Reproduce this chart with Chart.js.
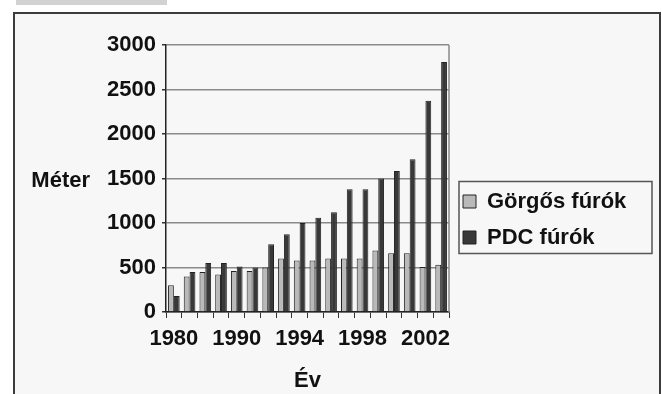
<!DOCTYPE html>
<html>
<head>
<meta charset="utf-8">
<title>Fúrási teljesítmény</title>
<script src="https://cdn.jsdelivr.net/npm/chart.js@4.4.1/dist/chart.umd.min.js"></script>
<style>
  body { margin: 0; background: #fff; }
  #wrap { position: relative; width: 662px; height: 394px; overflow: hidden; }
  .tab { position: absolute; left: 16px; top: 0; width: 151px; height: 5px; background: #d2d2d2; }
  .frame { position: absolute; left: 13px; top: 12px; width: 644px; height: 420px; border: 2px solid #3c3c3c; background: #f7f7f7; }
  canvas { position: absolute; left: 0; top: 0; }
</style>
</head>
<body>
<div id="wrap">
  <div class="tab"></div>
  <div class="frame"></div>
  <canvas id="chart" width="662" height="394"></canvas>
</div>
<script>
// years on the category axis, only some of them get a label
const years = ['1980', '1984', '1986', '1988', '1990', '1991', '1992', '1993', '1994',
               '1995', '1996', '1997', '1998', '1999', '2000', '2001', '2002', '2003'];
const shownYears = ['1980', '1990', '1994', '1998', '2002'];

// metres drilled per bit
const gorgos = [300, 400, 450, 420, 460, 460, 500, 600, 580, 580, 600, 600, 600, 690, 660, 660, 505, 530];
const pdc = [180, 450, 550, 550, 510, 500, 760, 875, 1000, 1060, 1120, 1380, 1380, 1500, 1585, 1715, 2375, 2810];

const yTicks = { min: 0, max: 3000, step: 500 };

const FONT = '"Liberation Sans", Arial, sans-serif';
Chart.defaults.font.family = FONT;
Chart.defaults.font.size = 22;
Chart.defaults.font.weight = 'bold';
Chart.defaults.color = '#111';

// horizontal y title left of the axis
const yTitle = {
  id: 'yTitle',
  afterDraw(chart) {
    const { ctx, chartArea } = chart;
    ctx.save();
    ctx.font = 'bold 22px ' + FONT;
    ctx.fillStyle = '#111';
    ctx.textAlign = 'right';
    ctx.textBaseline = 'middle';
    ctx.fillText('Méter', 90, (chartArea.top + chartArea.bottom) / 2 + 2);
    ctx.restore();
  }
};

// grey border on the right side of the plot
const plotFrame = {
  id: 'plotFrame',
  beforeDatasetsDraw(chart) {
    const { ctx, chartArea } = chart;
    ctx.save();
    ctx.strokeStyle = '#8a8a8a';
    ctx.lineWidth = 1.5;
    ctx.beginPath();
    ctx.moveTo(chartArea.right, chartArea.top);
    ctx.lineTo(chartArea.right, chartArea.bottom);
    ctx.stroke();
    ctx.restore();
  }
};

// box around the legend entries
const legendBox = {
  id: 'legendBox',
  afterDraw(chart) {
    const boxes = chart.legend.legendHitBoxes;
    if (!boxes || !boxes.length) return;
    const left = Math.min(...boxes.map(b => b.left)) - 4;
    const top = Math.min(...boxes.map(b => b.top)) - 9;
    const bottom = Math.max(...boxes.map(b => b.top + b.height)) + 5;
    const { ctx } = chart;
    ctx.save();
    ctx.strokeStyle = '#555';
    ctx.lineWidth = 1.5;
    ctx.strokeRect(left, top, 193, bottom - top);
    ctx.restore();
  }
};

new Chart(document.getElementById('chart'), {
  type: 'bar',
  data: {
    labels: years,
    datasets: [
      { label: 'Görgős fúrók', data: gorgos, backgroundColor: '#b9b9b9', borderColor: '#222', borderWidth: 1 },
      { label: 'PDC fúrók', data: pdc, backgroundColor: '#383838', borderColor: '#222', borderWidth: 1 }
    ]
  },
  options: {
    responsive: false,
    animation: false,
    layout: { padding: { top: 45, right: 26, bottom: 0, left: 0 } },
    datasets: { bar: { categoryPercentage: 0.74, barPercentage: 1.0 } },
    plugins: {
      tooltip: { enabled: false },
      legend: {
        position: 'right',
        maxWidth: 187,
        labels: { boxWidth: 13, boxHeight: 13, padding: 14, color: '#111', font: { size: 22, weight: 'bold' } }
      }
    },
    scales: {
      x: {
        afterFit(scale) { scale.height = 82; },
        grid: { drawOnChartArea: false, tickLength: 6, color: '#333', lineWidth: 1 },
        border: { color: '#222', width: 1.5 },
        ticks: {
          autoSkip: false, maxRotation: 0, minRotation: 0, padding: 8,
          callback: (v, i) => shownYears.includes(years[i]) ? years[i] : ''
        },
        title: { display: true, text: 'Év', padding: { top: 15, bottom: 0 } }
      },
      y: {
        min: yTicks.min,
        max: yTicks.max,
        afterFit(scale) { scale.width = 166; },
        grid: { color: '#8a8a8a', lineWidth: 1.5, tickLength: 4, tickColor: '#333' },
        border: { color: '#222', width: 1.5 },
        ticks: { stepSize: yTicks.step, padding: 6, callback: v => String(v) }
      }
    }
  },
  plugins: [yTitle, plotFrame, legendBox]
});
</script>
</body>
</html>
